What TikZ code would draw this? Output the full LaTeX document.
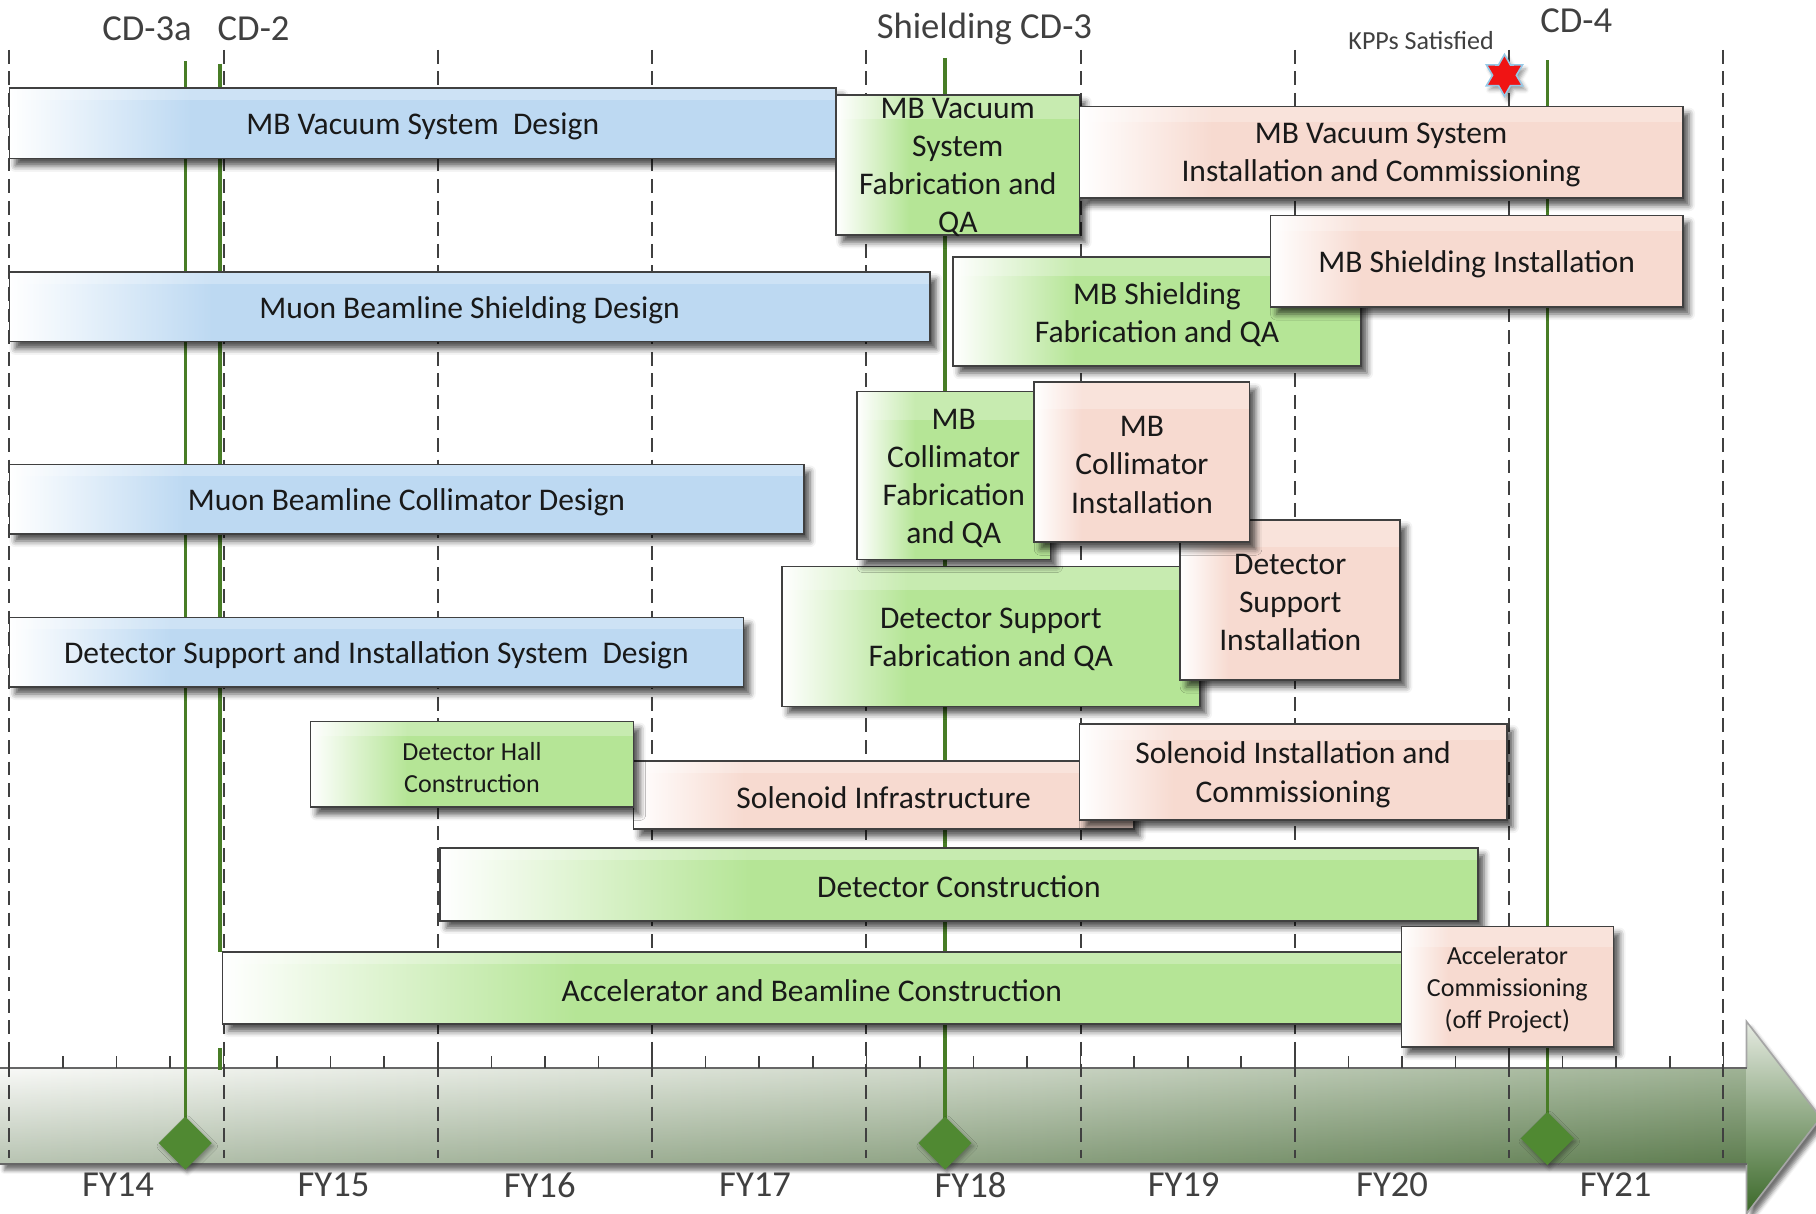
\documentclass[tikz,border=0pt]{standalone}
\usepackage{fontspec}
\setmainfont{Carlito}
\usetikzlibrary{shapes.geometric,shadows.blur,calc}
\definecolor{bxblue}{RGB}{189,217,242}
\definecolor{bxgreen}{RGB}{181,229,150}
\definecolor{bxpink}{RGB}{247,218,208}
\definecolor{edgegray}{RGB}{64,64,64}
\definecolor{msgreen}{RGB}{72,125,38}
\definecolor{diagreen}{RGB}{80,137,50}
\definecolor{txtgray}{RGB}{64,64,64}
\definecolor{bandA}{RGB}{246,247,244}
\definecolor{bandB}{RGB}{192,204,184}
\definecolor{bandC}{RGB}{118,146,104}
\definecolor{headtop}{RGB}{230,235,226}
\definecolor{headbot}{RGB}{58,104,40}
\definecolor{darkband}{RGB}{40,78,25}
\definecolor{starred}{RGB}{240,20,20}
\definecolor{starline}{RGB}{150,200,230}
\pgfdeclarehorizontalshading{blueshade}{100bp}{color(0bp)=(white); color(25bp)=(white); color(36bp)=(bxblue); color(100bp)=(bxblue)}
\pgfdeclarehorizontalshading{greenshade}{100bp}{color(0bp)=(white); color(25bp)=(white); color(40bp)=(bxgreen); color(100bp)=(bxgreen)}
\pgfdeclarehorizontalshading{pinkshade}{100bp}{color(0bp)=(white); color(25bp)=(white); color(36bp)=(bxpink); color(100bp)=(bxpink)}
\pgfdeclarehorizontalshading{bandshade}{100bp}{color(0bp)=(bandA); color(25bp)=(bandA); color(50bp)=(bandB); color(75bp)=(bandC); color(100bp)=(bandC)}
\newcommand\taskbox[8]{%
  \node[#6, minimum width={(#4-#2)*0.02cm}, minimum height={(#5-#3)*0.02cm}] (#1) at ({(#2+#4)/2},{(#3+#5)/2}) {};
  \fill[white, opacity=0.25] ($(#1.north west)+(0.4pt,-0.4pt)$) rectangle ($(#1.north east)!0.17!(#1.south east)+(-0.4pt,0)$);
  \node[boxtext, #7] (#1-text) at ([yshift=-1.4pt]#1.center) {#8};}
\begin{document}
\begin{tikzpicture}[x=0.02cm, y=-0.02cm,
  box/.style={draw=edgegray, line width=0.75pt, inner sep=0pt, outer sep=0pt, blur shadow={shadow xshift=3pt, shadow yshift=-3.5pt, shadow blur radius=3pt, shadow opacity=68}},
  boxtext/.style={inner sep=0pt, align=center, text=black!90, font=\fontsize{15.5}{18.7}\selectfont},
  bluebox/.style={box, shade, shading=blueshade},
  greenbox/.style={box, shade, shading=greenshade},
  pinkbox/.style={box, shade, shading=pinkshade},
  smalltext/.style={font=\fontsize{12.8}{15.7}\selectfont},
  gridline/.style={draw=txtgray, line width=1pt, dash pattern=on 6.8pt off 3.8pt},
  msline/.style={draw=msgreen, line width=1.7pt},
  mslabel/.style={text=txtgray, font=\fontsize{18}{20}\selectfont, inner sep=0pt},
  fylabel/.style={text=txtgray, font=\fontsize{18}{20}\selectfont, inner sep=0pt},
  msdia/.style={diamond, fill=diagreen, inner sep=0pt, minimum width=0.92cm, minimum height=0.92cm, blur shadow={shadow xshift=1pt, shadow yshift=-1.5pt, shadow opacity=35}},
]
\useasboundingbox (0,0) rectangle (1568,1048);
% time band
\path[fill=white, blur shadow={shadow xshift=2pt, shadow yshift=-3pt, shadow opacity=55}] (0,922) -- (1508,922) -- (1508,882) -- (1572,965) -- (1508,1048) -- (1508,1005) -- (0,1005) -- cycle;
\shade[shading=bandshade] (0,922) rectangle (1508,1005);
\shade[top color=white, bottom color=darkband, opacity=0.3] (0,922) rectangle (1508,1005);
\shade[top color=headtop, bottom color=headbot] (1508,882) -- (1572,965) -- (1508,1048) -- cycle;
\draw[gray!70, line width=0.8pt] (1508,922) -- (1508,882) -- (1572,965) -- (1508,1048) -- (1508,1005);
\draw[txtgray!80, line width=1pt] (0,922) -- (1508,922);
\draw[txtgray!80, line width=1pt] (0,1005) -- (1508,1005);
\foreach \i in {0,...,32} \draw[txtgray, line width=0.8pt] ({8+46.25*\i},922) -- ++(0,-10);
% grid
\foreach \k in {0,...,8} \draw[gridline] ({8+185*\k},43) -- ({8+185*\k},1000);
% milestone lines
\coordinate (t1) at (160,53); \coordinate (b1) at (160,987);
\coordinate (t2) at (190,55); \coordinate (b2) at (190,822);
\coordinate (t2b) at (190,905); \coordinate (b2b) at (190,924);
\coordinate (t3) at (816,50); \coordinate (b3) at (816,987);
\coordinate (t4) at (1336,52); \coordinate (b4) at (1336,983);
\draw[msline] (t1) -- (b1);
\draw[msline] (t2) -- (b2);
\draw[msline] (t2b) -- (b2b);
\draw[msline] (t3) -- (b3);
\draw[msline] (t4) -- (b4);
\node[msdia] (d1) at (b1) {};
\node[msdia] (d3) at (b3) {};
\node[msdia] (d4) at (b4) {};
% boxes
\taskbox{vacdes}{8}{76}{722}{137}{bluebox}{}{MB Vacuum System\ \ Design}
\taskbox{vacfab}{722}{82}{932}{203}{greenbox}{}{MB Vacuum\\System\\Fabrication and\\QA}
\taskbox{vacins}{932}{92}{1453}{171}{pinkbox}{}{MB Vacuum System\\Installation and Commissioning}
\taskbox{shfab}{823}{222}{1175}{316}{greenbox}{}{MB Shielding\\Fabrication and QA}
\taskbox{shins}{1097}{186}{1453}{265}{pinkbox}{}{MB Shielding Installation}
\taskbox{shdes}{8}{235}{803}{295}{bluebox}{}{Muon Beamline Shielding Design}
\taskbox{dsfab}{675}{489}{1036}{610}{greenbox}{}{Detector Support\\Fabrication and QA}
\taskbox{dsins}{1019}{449}{1209}{587}{pinkbox}{}{Detector\\Support\\Installation}
\taskbox{colfab}{740}{338}{907}{483}{greenbox}{}{MB\\Collimator\\Fabrication\\and QA}
\taskbox{colins}{893}{330}{1079}{468}{pinkbox}{}{MB\\Collimator\\Installation}
\taskbox{coldes}{8}{401}{694}{461}{bluebox}{}{Muon Beamline Collimator Design}
\taskbox{dsdes}{8}{533}{642}{593}{bluebox}{}{Detector Support and Installation System\ \ Design}
\taskbox{solinf}{547}{657}{979}{716}{pinkbox}{}{Solenoid Infrastructure}
\taskbox{dethall}{268}{623}{547}{697}{greenbox}{smalltext}{Detector Hall\\Construction}
\taskbox{solins}{932}{625}{1301}{708}{pinkbox}{}{Solenoid Installation and\\Commissioning}
\taskbox{detcon}{380}{732}{1276}{795}{greenbox}{}{Detector Construction}
\taskbox{acccon}{192}{822}{1210}{884}{greenbox}{}{Accelerator and Beamline Construction}
\taskbox{acccom}{1210}{800}{1393}{904}{pinkbox}{smalltext}{Accelerator\\Commissioning\\(off Project)}
% star
\node[star, star points=6, star point ratio=1.75, fill=starred, draw=starline, line width=0.8pt, inner sep=0pt, minimum size=0.72cm, blur shadow={shadow xshift=1.5pt, shadow yshift=-2pt, shadow opacity=40}] (kpp) at (1299,65) {};
% milestone labels
\node[mslabel] (lcd3a) at (127,25) {CD-3a};
\node[mslabel] (lcd2) at (219,25) {CD-2};
\node[mslabel] (lcd3) at (850,25) {Shielding CD-3};
\node[mslabel, font=\fontsize{12.8}{14}\selectfont] (lkpp) at (1227,35) {KPPs Satisfied};
\node[mslabel] (lcd4) at (1361,18) {CD-4};
% FY labels
\node[fylabel] (fy14) at (102,1023) {FY14};
\node[fylabel] (fy15) at (288,1023) {FY15};
\node[fylabel] (fy16) at (466,1023) {FY16};
\node[fylabel] (fy17) at (652,1023) {FY17};
\node[fylabel] (fy18) at (838,1023) {FY18};
\node[fylabel] (fy19) at (1022,1023) {FY19};
\node[fylabel] (fy20) at (1202,1023) {FY20};
\node[fylabel] (fy21) at (1395,1023) {FY21};
\end{tikzpicture}
\end{document}
